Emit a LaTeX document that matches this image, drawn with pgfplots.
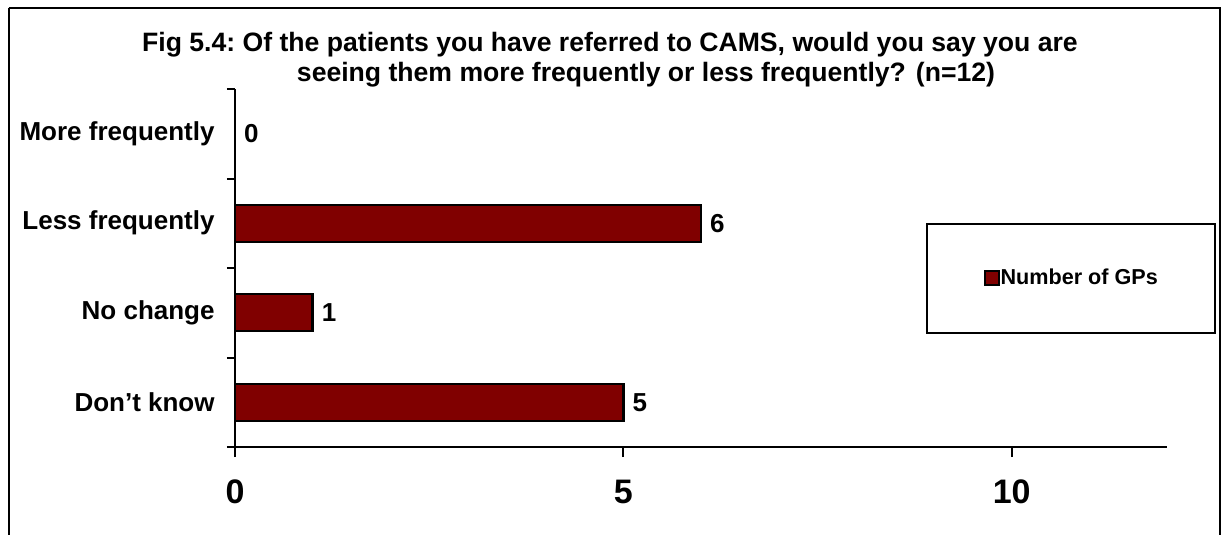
\documentclass[border=0pt]{standalone}
\usepackage{fontspec}
\setmainfont{Liberation Sans}
\usepackage{pgfplots}
\pgfplotsset{compat=1.18}
\definecolor{barred}{RGB}{128,0,0}
\frenchspacing
\begin{document}
\begin{tikzpicture}[x=1pt,y=1pt]
\useasboundingbox (0,0) rectangle (610.5,-267.5);
\draw[line width=1pt] (4.25,-4.25) -- (609.75,-4.25) -- (609.75,-272) (4.25,-4.25) -- (4.25,-272);
\node[font=\bfseries\fontsize{13.3}{15}\selectfont] at (305,-22.5) {Fig 5.4: Of the patients you have referred to CAMS, would you say you are};
\node[font=\bfseries\fontsize{13.3}{15}\selectfont] at (323,-37.5) {seeing them more frequently or less frequently?\hspace{5pt}(n=12)};
\begin{axis}[
  at={(117.5pt,-223.5pt)}, anchor=south west,
  scale only axis, width=466pt, height=179pt,
  xmin=0, xmax=12, ymin=-0.5, ymax=3.5, y dir=reverse,
  axis x line*=bottom, axis y line*=left,
  axis line style={line width=1.1pt, -},
  xbar, bar width=18.5pt,
  xtick={0,5,10},
  ytick={0,1,2,3},
  yticklabels={More frequently, Less frequently, No change, Don’t know},
  minor ytick={-0.5,0.5,1.5,2.5,3.5},
  major tick style={line width=1pt, black},
  minor tick style={line width=1pt, black},
  tick align=outside,
  major tick length=5pt,
  minor tick length=4pt,
  ytick style={draw=none},
  minor y tick style={draw=black},
  /pgf/number format/assume math mode=true,
  yticklabel style={font=\bfseries\fontsize{13}{15}\selectfont, inner sep=0pt, xshift=-5pt},
  xticklabel style={font=\bfseries\fontsize{17}{19}\selectfont, yshift=-8pt},
  nodes near coords,
  nodes near coords style={font=\bfseries\fontsize{13}{15}\selectfont, anchor=west, inner sep=0pt, xshift=4pt},
  legend style={at={(rel axis cs:0.7414,0.6257)}, anchor=north west, draw=black, line width=1pt,
    inner xsep=28.3pt, inner ysep=22pt,
    font=\bfseries\fontsize{10.8}{12}\selectfont,
    nodes={inner sep=0.5pt},
    /tikz/every even column/.append style={column sep=0pt}},
  legend image code/.code={\draw[#1, line width=1pt] (0pt,-3.5pt) rectangle (7pt,3.5pt);},
  clip=false,
]
\addplot[fill=barred, draw=black, line width=1.2pt] coordinates {(0,0) (6,1) (1,2) (5,3)};
\addlegendentry{Number of GPs}
\end{axis}
\end{tikzpicture}
\end{document}
